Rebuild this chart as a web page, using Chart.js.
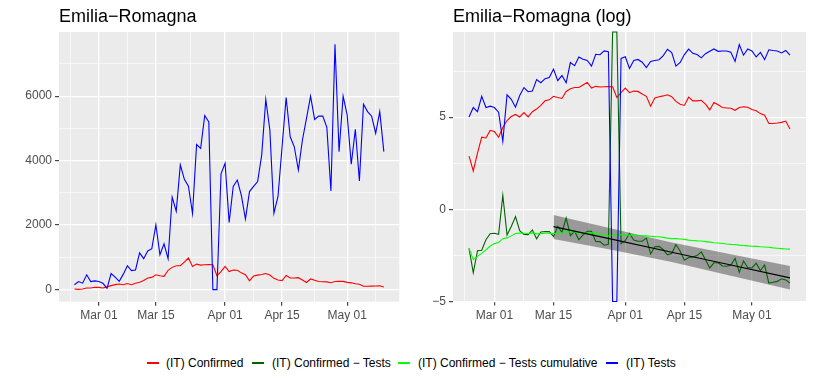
<!DOCTYPE html>
<html>
<head>
<meta charset="utf-8">
<script src="https://cdn.jsdelivr.net/npm/chart.js@4"></script>
<style>
  body { margin: 0; background: #fff; width: 814px; height: 380px; overflow: hidden; position: relative;
         font-family: "Liberation Sans", Arial, sans-serif; }
  canvas { position: absolute; top: 0; }
  .title { position: absolute; top: 7px; font-size: 18px; line-height: 18px; color: #000; white-space: nowrap; }
  .key { position: absolute; top: 362px; width: 12px; height: 1.5px; }
  .lab { position: absolute; top: 356px; font-size: 12px; line-height: 14px; color: #000; white-space: nowrap; }
</style>
</head>
<body>
<canvas id="lin" width="407" height="340" style="left:0"></canvas>
<canvas id="log" width="407" height="340" style="left:407px"></canvas>
<div class="title" style="left:59px">Emilia−Romagna</div>
<div class="title" style="left:453px">Emilia−Romagna (log)</div>

<div class="key" style="left:147px;background:#FF0000"></div>
<div class="lab" style="left:166px">(IT) Confirmed</div>
<div class="key" style="left:252px;background:#006400"></div>
<div class="lab" style="left:272px">(IT) Confirmed − Tests</div>
<div class="key" style="left:398px;background:#00FF00"></div>
<div class="lab" style="left:418px">(IT) Confirmed − Tests cumulative</div>
<div class="key" style="left:606px;background:#0000FF"></div>
<div class="lab" style="left:626px">(IT) Tests</div>

<script>
// daily values, one per day starting at startDate
const startDate = '2020-02-24';

const confirmed = [18, 8, 21, 50, 48, 72, 68, 50, 85, 124,
  154, 172, 150, 190, 150, 200, 230, 280, 360, 380,
  460, 430, 410, 600, 690, 740, 740, 850, 980, 720,
  790, 760, 770, 780, 770, 430, 560, 720, 560, 610,
  600, 520, 460, 270, 420, 450, 470, 500, 450, 350,
  300, 280, 440, 360, 360, 370, 300, 220, 330, 290,
  250, 245, 240, 215, 250, 260, 255, 225, 210, 180,
  165, 105, 105, 108, 112, 120, 78];

const tests = [150, 250, 200, 460, 250, 270, 250, 195, 40, 500,
  390, 255, 480, 740, 590, 610, 1140, 960, 1200, 1270,
  2010, 1080, 1420, 960, 2870, 2430, 3870, 3420, 3210, 2360,
  4500, 4380, 5400, 5200, 0, 0, 3590, 3920, 2080, 3200,
  3400, 2920, 2190, 3040, 3200, 3350, 4180, 5900, 4950, 2370,
  2890, 4430, 5960, 4740, 4430, 3710, 4640, 5310, 6000, 5280,
  5380, 5380, 5030, 3060, 7610, 4280, 6000, 5410, 3890, 4970,
  3370, 5750, 5520, 5380, 4850, 5520, 4280];

// log scale panel
const confMinusTests = [-2.12, -3.44, -2.25, -2.22, -1.65, -1.32, -1.30, -1.36, 0.75, -1.39,
  -0.93, -0.39, -1.16, -1.36, -1.37, -1.12, -1.60, -1.23, -1.20, -1.21,
  -1.47, -0.92, -1.24, -0.47, -1.43, -1.19, -1.65, -1.39, -1.19, -1.19,
  -1.74, -1.75, -1.95, -1.90, Infinity, Infinity, -1.86, -1.69, -1.31, -1.66,
  -1.73, -1.73, -1.56, -2.42, -2.03, -2.01, -2.19, -2.47, -2.40, -1.91,
  -2.27, -2.76, -2.61, -2.58, -2.51, -2.31, -2.74, -3.18, -2.90, -2.90,
  -3.07, -3.09, -3.04, -2.66, -3.42, -2.80, -3.16, -3.18, -2.92, -3.32,
  -3.02, -4.00, -3.96, -3.91, -3.77, -3.83, -4.00];

const confMinusTestsCum = [-2.12, -2.73, -2.55, -2.39, -2.20, -1.99, -1.86, -1.80, -1.59, -1.55,
  -1.44, -1.31, -1.29, -1.30, -1.31, -1.28, -1.33, -1.32, -1.30, -1.29,
  -1.32, -1.28, -1.28, -1.20, -1.23, -1.23, -1.28, -1.30, -1.29, -1.28,
  -1.32, -1.36, -1.41, -1.45, -1.39, -1.36, -1.38, -1.40, -1.40, -1.41,
  -1.42, -1.43, -1.44, -1.46, -1.48, -1.49, -1.52, -1.56, -1.59, -1.59,
  -1.61, -1.63, -1.67, -1.69, -1.71, -1.72, -1.75, -1.78, -1.81, -1.83,
  -1.85, -1.88, -1.90, -1.91, -1.94, -1.96, -1.98, -2.00, -2.01, -2.03,
  -2.04, -2.06, -2.09, -2.11, -2.13, -2.15, -2.16];

// linear fit of confirmed - tests from Mar 15, with its band
const fitDates = ['2020-03-15', '2020-03-29', '2020-04-12', '2020-04-26', '2020-05-10'];
const fitLine = [-0.94, -1.63, -2.33, -3.02, -3.72];
const fitUpper = [-0.31, -1.05, -1.80, -2.44, -3.08];
const fitLower = [-1.61, -2.21, -2.86, -3.60, -4.35];

const xTickDates = ['2020-03-01', '2020-03-15', '2020-04-01', '2020-04-15', '2020-05-01'];
const xTickLabels = ['Mar 01', 'Mar 15', 'Apr 01', 'Apr 15', 'May 01'];
const xMinorDates = ['2020-02-23', '2020-03-08', '2020-03-23.5', '2020-04-08', '2020-04-23', '2020-05-08'];
const yTicksLin = [0, 2000, 4000, 6000];
const yMinorLin = [1000, 3000, 5000, 7000];
const yTicksLog = [-5, 0, 5];
const yMinorLog = [-2.5, 2.5, 7.5];

const FONT = '"Liberation Sans", Arial, sans-serif';
const DAY = 864e5;
const dayOf = s => {
  const half = s.endsWith('.5') ? 0.5 : 0;
  return (Date.parse(s.replace('.5', '')) - Date.parse('2020-03-01')) / DAY + half;
};
const x0 = dayOf(startDate);
const pts = arr => arr.map((v, i) => ({ x: x0 + i, y: v }));
const fitPts = arr => arr.map((v, i) => ({ x: dayOf(fitDates[i]), y: v }));

const xMajor = xTickDates.map(dayOf);
const xMinor = xMinorDates.map(dayOf);

const panelBg = {
  id: 'panelBg',
  beforeDraw(chart) {
    const a = chart.chartArea, c = chart.ctx;
    c.save();
    c.fillStyle = '#EBEBEB';
    c.fillRect(a.left, a.top, a.right - a.left, a.bottom - a.top);
    c.restore();
  }
};

function axis(min, max, major, minor, label, fitSize, isX) {
  const all = major.concat(minor).sort((a, b) => a - b);
  const isMajor = v => major.some(m => Math.abs(m - v) < 1e-6);
  return {
    type: 'linear', min, max,
    afterBuildTicks: ax => { ax.ticks = all.map(v => ({ value: v })); },
    afterFit: ax => { if (isX) ax.height = fitSize; else ax.width = fitSize; },
    ticks: {
      autoSkip: false, maxRotation: 0, minRotation: 0,
      color: '#4D4D4D', font: { family: FONT, size: 12 }, padding: isX ? 3 : 3,
      callback: v => isMajor(v) ? label(v) : ''
    },
    grid: {
      color: '#FFFFFF',
      lineWidth: ctx => (ctx.tick && isMajor(ctx.tick.value)) ? 1.3 : 0.6,
      drawTicks: true, tickLength: 4, tickWidth: 1.1,
      tickColor: ctx => (ctx.tick && isMajor(ctx.tick.value)) ? '#333333' : 'rgba(0,0,0,0)'
    },
    border: { display: false }
  };
}

const dateLabel = v => xTickLabels[xMajor.findIndex(m => Math.abs(m - v) < 1e-6)];
const numLabel = v => v < 0 ? '\u2212' + Math.abs(v) : String(v);

function line(data, color, order) {
  return { data, borderColor: color, borderWidth: 1.1, pointRadius: 0, tension: 0,
           fill: false, order, clip: 2 };
}

const common = (padRight, yAxis, xSize) => ({
  responsive: false, animation: false, devicePixelRatio: 1,
  layout: { padding: { top: 32, right: padRight, left: 0, bottom: 0 } },
  plugins: { legend: { display: false }, tooltip: { enabled: false } },
  scales: {
    x: axis(-9.8, 73.8, xMajor, xMinor, dateLabel, xSize, true),
    y: yAxis
  }
});

// left panel: raw counts
new Chart(document.getElementById('lin'), {
  type: 'line',
  data: { datasets: [
    line(pts(tests), '#0000FF', 1),
    line(pts(confirmed), '#FF0000', 2)
  ] },
  options: common(7.7, axis(-375, 7990, yTicksLin, yMinorLin, numLabel, 59, false), 38.3),
  plugins: [panelBg]
});

// right panel: natural log, out of range values pushed to the panel edge
const LOG_MIN = -5, LOG_MAX = 9.62;
const squish = v => Math.min(LOG_MAX, Math.max(LOG_MIN, v));
const logOf = arr => arr.map(v => squish(Math.log(v)));

new Chart(document.getElementById('log'), {
  type: 'line',
  data: { datasets: [
    { data: fitPts(fitUpper), borderWidth: 0, pointRadius: 0, fill: '+1',
      backgroundColor: 'rgba(0,0,0,0.35)', order: 9 },
    { data: fitPts(fitLower), borderWidth: 0, pointRadius: 0, fill: false, order: 9 },
    line(pts(logOf(tests)), '#0000FF', 2),
    line(pts(confMinusTestsCum.map(squish)), '#00FF00', 3),
    line(pts(confMinusTests.map(squish)), '#006400', 4),
    line(pts(logOf(confirmed)), '#FF0000', 5),
    line(fitPts(fitLine), '#000000', 1)
  ] },
  options: common(8, axis(LOG_MIN, LOG_MAX, yTicksLog, yMinorLog, numLabel, 46, false), 38.5),
  plugins: [panelBg]
});
</script>
</body>
</html>
